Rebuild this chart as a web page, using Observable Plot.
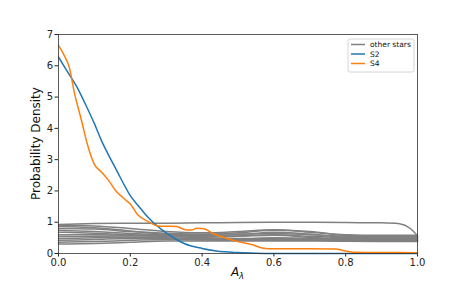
<!DOCTYPE html>
<html><head><meta charset="utf-8">
<script src="https://cdn.jsdelivr.net/npm/d3@7"></script>
<script src="https://cdn.jsdelivr.net/npm/@observablehq/plot@0.6"></script>
<style>
body{margin:0;background:#fff;}
svg{font-family:"DejaVu Sans",sans-serif;}
</style></head><body><div id="chart"></div>
<script>
const grid = [0,0.1,0.2,0.3,0.4,0.5,0.6,0.7,0.8,0.9,0.95,0.98,1.0];
const others = [
  [0.93,0.96,0.97,0.97,0.98,0.99,1.0,1.0,0.99,0.98,0.95,0.8,0.57],
  [0.90,0.88,0.80,0.70,0.66,0.70,0.76,0.68,0.60,0.58,0.58,0.58,0.58],
  [0.86,0.82,0.72,0.62,0.60,0.66,0.74,0.70,0.58,0.54,0.54,0.54,0.54],
  [0.80,0.78,0.70,0.65,0.62,0.62,0.64,0.60,0.55,0.52,0.52,0.52,0.52],
  [0.74,0.70,0.64,0.60,0.58,0.60,0.68,0.62,0.52,0.50,0.50,0.50,0.50],
  [0.68,0.65,0.60,0.58,0.55,0.56,0.60,0.55,0.50,0.48,0.48,0.48,0.48],
  [0.60,0.60,0.58,0.55,0.53,0.55,0.58,0.52,0.47,0.46,0.46,0.46,0.46],
  [0.54,0.55,0.56,0.55,0.50,0.48,0.50,0.48,0.45,0.44,0.44,0.44,0.44],
  [0.48,0.50,0.52,0.50,0.48,0.46,0.48,0.46,0.44,0.42,0.42,0.42,0.42],
  [0.42,0.45,0.48,0.48,0.45,0.44,0.45,0.44,0.42,0.41,0.41,0.41,0.41],
  [0.36,0.38,0.42,0.45,0.43,0.42,0.42,0.42,0.41,0.40,0.40,0.40,0.40],
  [0.30,0.32,0.36,0.40,0.40,0.40,0.40,0.40,0.39,0.38,0.38,0.38,0.38]
];
const s2x = [0,0.02,0.05,0.08,0.1,0.12,0.137,0.16,0.2,0.23,0.25,0.267,0.3,0.33,0.35,0.4,0.44,0.5,0.55,0.6,0.8,1.0];
const s2y = [6.28,5.9,5.35,4.65,4.15,3.6,3.2,2.7,1.85,1.42,1.15,0.96,0.66,0.44,0.32,0.16,0.08,0.03,0.01,0.003,0.0,0.0];
const s4x = [0,0.015,0.03,0.045,0.063,0.081,0.1,0.12,0.14,0.16,0.18,0.2,0.22,0.25,0.28,0.31,0.33,0.35,0.37,0.385,0.405,0.43,0.47,0.5,0.54,0.57,0.6,0.7,0.77,0.8,0.82,0.9,0.95,1.0];
const s4y = [6.65,6.35,5.95,5.1,4.3,3.47,2.85,2.6,2.33,2.0,1.78,1.58,1.25,1.02,0.87,0.87,0.86,0.77,0.75,0.81,0.79,0.64,0.48,0.38,0.28,0.17,0.15,0.15,0.14,0.08,0.04,0.03,0.03,0.02];
const xTicks = [0,0.2,0.4,0.6,0.8,1.0];
const yTicks = [0,1,2,3,4,5,6,7];
const legendLabels = ["other stars","S2","S4"];
const colors = {other:"#808080", S2:"#1f77b4", S4:"#ff7f0e"};

const otherData = others.flatMap((ys,i)=>ys.map((y,j)=>({x:grid[j],y,id:i})));
const s2 = s2x.map((x,i)=>({x,y:s2y[i]}));
const s4 = s4x.map((x,i)=>({x,y:s4y[i]}));

const W=463,H=290,ml=58,mr=46,mt=34,mb=37;
const plot = Plot.plot({
  width:W,height:H,marginLeft:ml,marginRight:mr,marginTop:mt,marginBottom:mb,
  style:{fontFamily:"DejaVu Sans, sans-serif",fontSize:"10px",color:"#222",background:"#fff"},
  x:{domain:[0,1],ticks:xTicks,tickFormat:d3.format(".1f"),label:null,tickSize:3.5,tickPadding:2},
  y:{domain:[0,7],ticks:yTicks,tickFormat:d3.format("d"),label:null,tickSize:3.5,tickPadding:2},
  marks:[
    Plot.line(otherData,{x:"x",y:"y",z:"id",stroke:colors.other,strokeWidth:1.5,curve:"monotone-x"}),
    Plot.line(s2,{x:"x",y:"y",stroke:colors.S2,strokeWidth:1.5,curve:"monotone-x"}),
    Plot.line(s4,{x:"x",y:"y",stroke:colors.S4,strokeWidth:1.5,curve:"monotone-x"}),
    Plot.frame({stroke:"#333",strokeWidth:0.8})
  ]
});
document.getElementById("chart").appendChild(plot);
const svg = d3.select(plot);
// axis labels
svg.append("text").attr("transform",`translate(40,${mt+(H-mt-mb)/2}) rotate(-90)`)
  .attr("text-anchor","middle").attr("font-size",12).attr("fill","#111").text("Probability Density");
const xl = svg.append("text").attr("x",ml+(W-ml-mr)/2).attr("y",276).attr("text-anchor","middle").attr("font-size",12).attr("fill","#111");
xl.append("tspan").attr("font-style","italic").text("A");
xl.append("tspan").attr("font-style","italic").attr("font-size",8.5).attr("dy",3).text("λ");
// legend
const lg = svg.append("g").attr("transform","translate(348,39)");
lg.append("rect").attr("width",66).attr("height",33).attr("rx",2).attr("fill","#fff").attr("fill-opacity",0.8).attr("stroke","#ccc").attr("stroke-width",0.8);
legendLabels.forEach((t,i)=>{
  const c=[colors.other,colors.S2,colors.S4][i];
  const y=5.5+i*9.5;
  lg.append("line").attr("x1",3).attr("x2",17).attr("y1",y).attr("y2",y).attr("stroke",c).attr("stroke-width",1.5);
  lg.append("text").attr("x",22).attr("y",y+2.7).attr("text-anchor","start").attr("font-size",7.5).attr("fill","#111").text(t);
});
</script></body></html>
